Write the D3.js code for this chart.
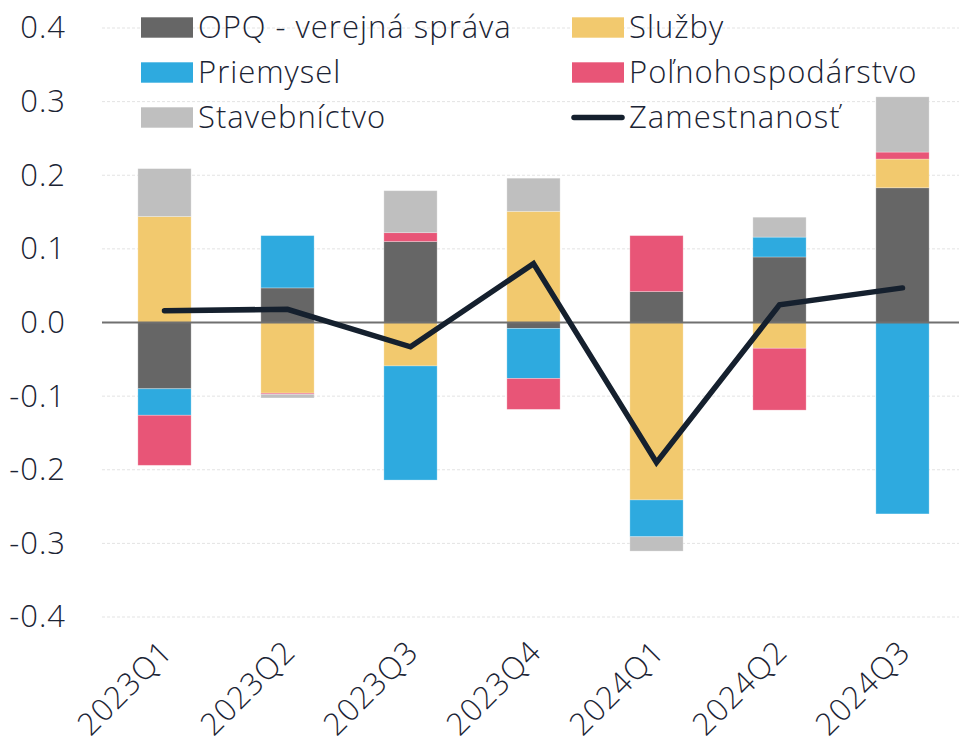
<!DOCTYPE html>
<html>
<head>
<meta charset="utf-8">
<script src="https://cdn.jsdelivr.net/npm/d3@7"></script>
<style>
  html, body { margin: 0; padding: 0; background: #fff; }
  svg { display: block; font-family: "Open Sans", "Segoe UI", sans-serif; }
</style>
</head>
<body>
<svg id="chart" width="959" height="749"></svg>
<script>
const categories = ["2023Q1", "2023Q2", "2023Q3", "2023Q4", "2024Q1", "2024Q2", "2024Q3"];
const seriesNames = ["OPQ - verejná správa", "Služby", "Priemysel", "Poľnohospodárstvo", "Stavebníctvo"];
const opq      = [-0.090, 0.047, 0.110, -0.008, 0.042, 0.089, 0.183];
const sluzby   = [0.144, -0.096, -0.059, 0.151, -0.241, -0.035, 0.039];
const priemysel= [-0.036, 0.071, -0.155, -0.068, -0.050, 0.027, -0.260];
const polno    = [-0.068, -0.0015, 0.012, -0.042, 0.076, -0.084, 0.0095];
const stavebn  = [0.065, -0.005, 0.057, 0.045, -0.0195, 0.027, 0.075];
const zamestnanost = [0.016, 0.018, -0.033, 0.080, -0.190, 0.024, 0.047];
const lineName = "Zamestnanosť";
const yTicks = [0.4, 0.3, 0.2, 0.1, 0.0, -0.1, -0.2, -0.3, -0.4];

const colors = ["#666666", "#f2c96e", "#2eaadf", "#e85577", "#bfbfbf"];
const textColor = "#1b2434";
const seriesValues = [opq, sluzby, priemysel, polno, stavebn];
const FS = 31, LS = "1px", FW = 350;

const svg = d3.select("#chart");
const margin = { left: 103, right: -5, top: 28, bottom: 132 };
const W = 959, H = 749;

const x = d3.scaleBand().domain(categories)
  .range([margin.left, W - margin.right]).paddingInner(0.567).paddingOuter(0.2835);
const y = d3.scaleLinear().domain([-0.4, 0.4]).range([H - margin.bottom, margin.top]);

// gridlines
svg.append("g").selectAll("line").data(yTicks.filter(d => d !== 0)).join("line")
  .attr("x1", 102).attr("x2", W)
  .attr("y1", d => y(d)).attr("y2", d => y(d))
  .attr("stroke", "#e3e3e3").attr("stroke-width", 1).attr("stroke-dasharray", "3,2");

// y axis labels
const yAxis = d3.axisLeft(y).tickValues(yTicks).tickFormat(d3.format(".1f")).tickSize(0).tickPadding(0);
const gy = svg.append("g").attr("transform", "translate(66,0)").call(yAxis);
gy.select(".domain").remove();
gy.selectAll("text").attr("font-size", FS).attr("fill", textColor)
  .attr("font-family", "'Open Sans', sans-serif").attr("font-weight", FW)
  .attr("letter-spacing", LS)
  .text(d => d3.format(".1f")(d).replace("−", "-"));

// stacked bars (diverging)
const bars = [];
categories.forEach((c, i) => {
  let pos = 0, neg = 0;
  seriesValues.forEach((arr, s) => {
    const v = arr[i];
    let y0, y1;
    if (v >= 0) { y0 = pos; y1 = pos + v; pos = y1; }
    else { y0 = neg; y1 = neg + v; neg = y1; }
    bars.push({ c, s, y0, y1 });
  });
});
svg.append("g").selectAll("rect").data(bars).join("rect")
  .attr("x", d => x(d.c))
  .attr("width", x.bandwidth())
  .attr("y", d => y(Math.max(d.y0, d.y1)))
  .attr("height", d => Math.abs(y(d.y0) - y(d.y1)))
  .attr("fill", d => colors[d.s])
  .attr("stroke", "rgba(255,255,255,0.35)")
  .attr("stroke-width", 0.8);

// zero line
svg.append("line").attr("x1", 102).attr("x2", W)
  .attr("y1", y(0)).attr("y2", y(0))
  .attr("stroke", "#707070").attr("stroke-width", 2.2);

// line series
const line = d3.line().x((d, i) => x(categories[i]) + x.bandwidth() / 2).y(d => y(d));
svg.append("path").datum(zamestnanost)
  .attr("d", line).attr("fill", "none")
  .attr("stroke", "#15202e").attr("stroke-width", 5.5)
  .attr("stroke-linejoin", "miter").attr("stroke-linecap", "round");

// x labels
const gx = svg.append("g");
gx.selectAll("text").data(categories).join("text")
  .attr("transform", d => `translate(${x(d) + x.bandwidth() / 2 + 2},${H - margin.bottom + 29}) rotate(-45)`)
  .attr("text-anchor", "end").attr("dy", "0.35em")
  .attr("font-size", FS).attr("font-weight", FW).attr("letter-spacing", LS).attr("fill", textColor)
  .text(d => d);

// legend
const legend = svg.append("g");
const legendItems = [
  { name: seriesNames[0], type: "rect", color: colors[0], col: 0, row: 0 },
  { name: seriesNames[1], type: "rect", color: colors[1], col: 1, row: 0 },
  { name: seriesNames[2], type: "rect", color: colors[2], col: 0, row: 1 },
  { name: seriesNames[3], type: "rect", color: colors[3], col: 1, row: 1 },
  { name: seriesNames[4], type: "rect", color: colors[4], col: 0, row: 2 },
  { name: lineName, type: "line", color: "#15202e", col: 1, row: 2 }
];
const colX = [141, 572];
const rowY = [27.5, 72.5, 117.5];
legendItems.forEach(it => {
  const gx0 = colX[it.col], gy0 = rowY[it.row];
  if (it.type === "rect") {
    legend.append("rect").attr("x", gx0).attr("y", gy0 - 10.2).attr("width", 52).attr("height", 20.4)
      .attr("fill", it.color);
  } else {
    legend.append("line").attr("x1", gx0 + 2).attr("x2", gx0 + 50).attr("y1", gy0).attr("y2", gy0)
      .attr("stroke", it.color).attr("stroke-width", 5.5).attr("stroke-linecap", "round");
  }
  legend.append("text").attr("x", gx0 + 57).attr("y", gy0).attr("dy", "0.35em")
    .attr("font-size", FS).attr("font-weight", FW).attr("letter-spacing", LS)
    .attr("fill", textColor).text(it.name);
});
</script>
</body>
</html>
